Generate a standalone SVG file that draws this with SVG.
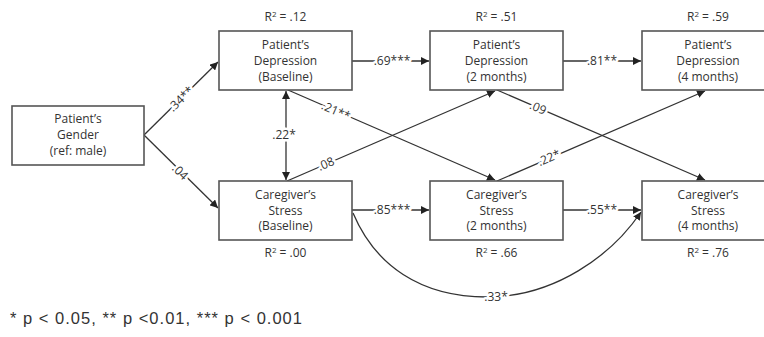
<svg xmlns="http://www.w3.org/2000/svg" width="764" height="337" viewBox="0 0 764 337">
<defs>
<style>
.box{fill:#fff;stroke:#555;stroke-width:1.6}
.t{font-family:"Open Sans",sans-serif;font-size:12px;fill:#333;text-anchor:middle}
.r{font-family:"Open Sans",sans-serif;font-size:12px;fill:#333;text-anchor:middle}
.e{stroke:#333;stroke-width:1.3;fill:none}
.l{font-family:"Open Sans",sans-serif;font-size:12px;fill:#333;text-anchor:middle;stroke:#fff;stroke-width:5;paint-order:stroke;stroke-linejoin:round}
.fn{font-family:"Liberation Sans",Arial,sans-serif;font-size:16.5px;fill:#333}
</style>
<marker id="ah" viewBox="0 0 10 10" refX="10" refY="5" markerWidth="8" markerHeight="8" markerUnits="userSpaceOnUse" orient="auto-start-reverse">
<path d="M0,0 L10,5 L0,10 z" fill="#222"/>
</marker>
</defs>
<rect width="764" height="337" fill="#fff"/>

<g id="connectors">
<path class="e" d="M144,135 L218,62" marker-end="url(#ah)"/>
<path class="e" d="M144,135 L218,208" marker-end="url(#ah)"/>
<path class="e" d="M352,61 L429,61" marker-end="url(#ah)"/>
<path class="e" d="M563,61 L641,61" marker-end="url(#ah)"/>
<path class="e" d="M352,210 L429,210" marker-end="url(#ah)"/>
<path class="e" d="M563,210 L641,210" marker-end="url(#ah)"/>
<path class="e" d="M286,91 L286,180" marker-start="url(#ah)" marker-end="url(#ah)"/>
<path class="e" d="M287,181 L495,91" marker-end="url(#ah)"/>
<path class="e" d="M288,90 L495,180" marker-end="url(#ah)"/>
<path class="e" d="M497,90 L705,180" marker-end="url(#ah)"/>
<path class="e" d="M497,181 L705,91" marker-end="url(#ah)"/>
<path class="e" d="M353,213 C375,265 420,297 487,297 C555,297 612,255 641,212" marker-end="url(#ah)"/>
<text class="l" transform="translate(181,99) rotate(-44)" dy="4">.34**</text>
<text class="l" transform="translate(180,172) rotate(44)" dy="4">.04</text>
<text class="l" x="392" y="65">.69***</text>
<text class="l" x="602" y="65">.81**</text>
<text class="l" x="392" y="214">.85***</text>
<text class="l" x="602" y="214">.55**</text>
<text class="l" x="284" y="139">.22*</text>
<text class="l" transform="translate(336,111) rotate(23.7)" dy="4">.21**</text>
<text class="l" transform="translate(326,164) rotate(-23.6)" dy="4">.08</text>
<text class="l" transform="translate(538,108) rotate(23.5)" dy="4">.09</text>
<text class="l" transform="translate(549,158) rotate(-23.6)" dy="4">.22*</text>
<text class="l" x="496" y="301">.33*</text>
</g>

<g id="gender">
<rect class="box" x="12" y="106" width="132" height="59"/>
<text class="t" x="78" y="123">Patient’s</text>
<text class="t" x="78" y="139">Gender</text>
<text class="t" x="78" y="155">(ref: male)</text>
</g>

<g id="dep0">
<rect class="box" x="219" y="31" width="133" height="59"/>
<text class="t" x="285.5" y="49">Patient’s</text>
<text class="t" x="285.5" y="65">Depression</text>
<text class="t" x="285.5" y="81">(Baseline)</text>
<text class="r" x="285.5" y="21">R<tspan dy="-4" font-size="8">2</tspan><tspan dy="4"> = .12</tspan></text>
</g>

<g id="dep2">
<rect class="box" x="430" y="31" width="133" height="59"/>
<text class="t" x="496.5" y="49">Patient’s</text>
<text class="t" x="496.5" y="65">Depression</text>
<text class="t" x="496.5" y="81">(2 months)</text>
<text class="r" x="496.5" y="21">R<tspan dy="-4" font-size="8">2</tspan><tspan dy="4"> = .51</tspan></text>
</g>

<g id="dep4">
<rect class="box" x="642" y="31" width="133" height="59"/>
<text class="t" x="708" y="49">Patient’s</text>
<text class="t" x="708" y="65">Depression</text>
<text class="t" x="708" y="81">(4 months)</text>
<text class="r" x="708" y="21">R<tspan dy="-4" font-size="8">2</tspan><tspan dy="4"> = .59</tspan></text>
</g>

<g id="stress0">
<rect class="box" x="219" y="181" width="133" height="59"/>
<text class="t" x="285.5" y="199">Caregiver’s</text>
<text class="t" x="285.5" y="214.5">Stress</text>
<text class="t" x="285.5" y="230">(Baseline)</text>
<text class="r" x="285.5" y="257">R<tspan dy="-4" font-size="8">2</tspan><tspan dy="4"> = .00</tspan></text>
</g>

<g id="stress2">
<rect class="box" x="430" y="181" width="133" height="59"/>
<text class="t" x="496.5" y="199">Caregiver’s</text>
<text class="t" x="496.5" y="214.5">Stress</text>
<text class="t" x="496.5" y="230">(2 months)</text>
<text class="r" x="496.5" y="257">R<tspan dy="-4" font-size="8">2</tspan><tspan dy="4"> = .66</tspan></text>
</g>

<g id="stress4">
<rect class="box" x="642" y="181" width="133" height="59"/>
<text class="t" x="708" y="199">Caregiver’s</text>
<text class="t" x="708" y="214.5">Stress</text>
<text class="t" x="708" y="230">(4 months)</text>
<text class="r" x="708" y="257">R<tspan dy="-4" font-size="8">2</tspan><tspan dy="4"> = .76</tspan></text>
</g>

<text class="fn" x="10" y="324" textLength="292" lengthAdjust="spacing">* p &lt; 0.05, ** p &lt;0.01, *** p &lt; 0.001</text>
</svg>
